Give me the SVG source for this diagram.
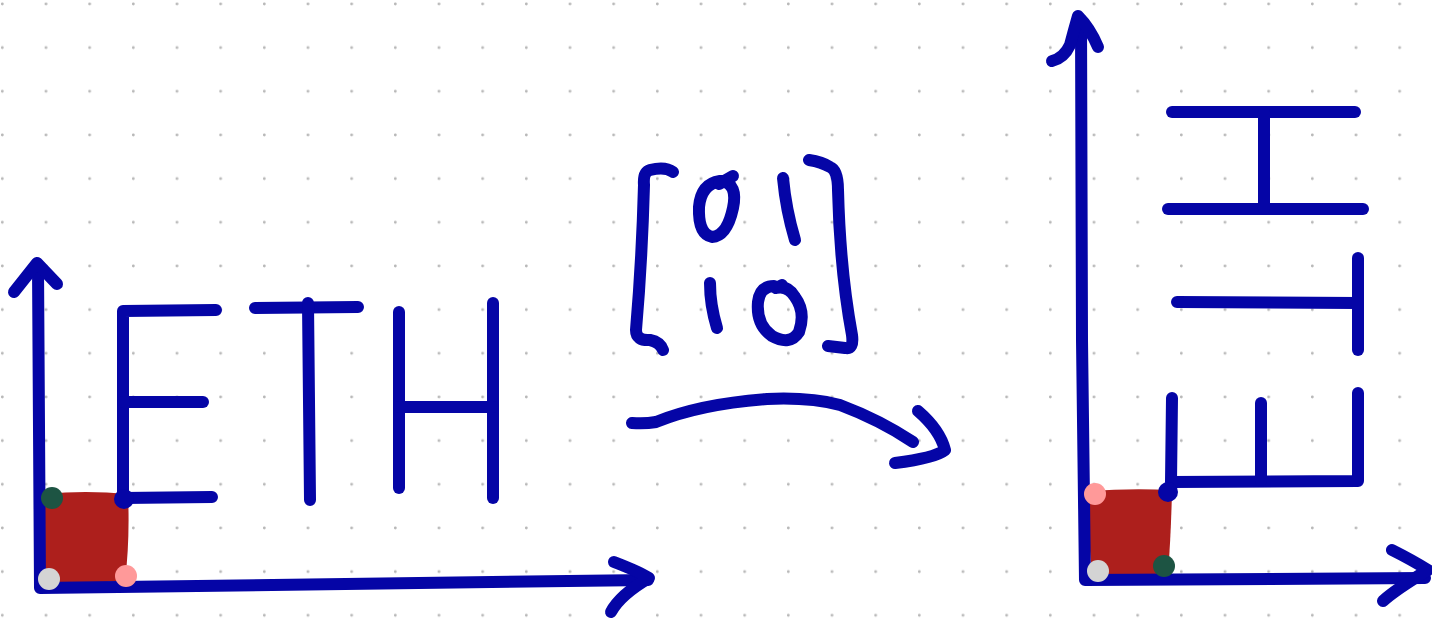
<svg xmlns="http://www.w3.org/2000/svg" width="1432" height="621" viewBox="0 0 1432 621">
  <style>
    .ink { fill: none; stroke: #0505a6; stroke-width: 12; stroke-linecap: round; stroke-linejoin: round; }
    .fill { fill: #ad1f1c; }
    .blue { fill: #0505a6; }
    .green { fill: #1d5443; }
    .grey { fill: #d4d4d4; }
    .pink { fill: #ff9999; }
  </style>
  <defs>
    <pattern id="dots" patternUnits="userSpaceOnUse" x="0" y="0" width="43.667" height="43.667">
      <circle cx="2.33" cy="4" r="1.4" fill="#b8b8b8"/>
    </pattern>
  </defs>

  <!-- dotted paper -->
  <rect width="1432" height="621" fill="#ffffff"/>
  <rect width="1432" height="621" fill="url(#dots)"/>

  <!-- original shape: square on axes with lettering -->
  <g id="left-square">
    <path class="fill" d="M45 494 Q85 490 128 494 Q130 540 125 581 Q85 584 46 582 Q43 540 44 514 Q38 505 45 494 Z"/>
  </g>
  <g id="left-axes">
    <path class="ink" d="M38 266 L40 588 L648 580"/>
    <path class="ink" d="M14 292 L37 263 L57 284"/>
    <path class="ink" d="M614 562 Q640 572 649 578 Q620 595 611 612"/>
  </g>
  <g id="left-letters">
    <!-- E -->
    <path class="ink" d="M216 310 L123 311 L123 498 L212 497"/>
    <path class="ink" d="M123 402 L203 402"/>
    <!-- T -->
    <path class="ink" d="M255 308 L358 307"/>
    <path class="ink" d="M308 303 L310 500"/>
    <!-- H -->
    <path class="ink" d="M399 312 L399 488"/>
    <path class="ink" d="M493 303 L493 498"/>
    <path class="ink" d="M399 407 L493 407"/>
  </g>
  <g id="left-corners">
    <circle class="green" cx="52" cy="498" r="11"/>
    <circle class="blue" cx="124" cy="499" r="10"/>
    <circle class="grey" cx="49" cy="579" r="11"/>
    <circle class="pink" cx="126" cy="576" r="11"/>
  </g>

  <!-- transformation matrix -->
  <g id="matrix">
    <path class="ink" d="M673 172 Q665 166 650 170 Q643 172 644 185 Q642 260 636 330 Q636 341 650 340 Q660 342 663 350"/>
    <path class="ink" d="M809 160 Q822 162 830 167 Q838 170 838 190 Q840 270 852 335 Q854 350 845 348 L828 346"/>
    <path class="ink" d="M720 181 Q701 184 699 207 Q698 234 712 237 Q727 236 733 208 Q738 184 722 181 Z"/>
    <path class="ink" d="M719 184 L733 176"/>
    <path class="ink" d="M783 178 Q786 210 795 240"/>
    <path class="ink" d="M710 283 Q710 305 717 328"/>
    <path class="ink" d="M774 286 Q760 286 758 302 Q756 325 772 336 Q790 346 799 332 Q806 312 795 297 Q788 285 776 288 L782 285"/>
  </g>

  <!-- mapping arrow -->
  <g id="connectors">
    <path class="ink" d="M632 423 Q645 424 656 422 Q700 404 767 399 Q810 397 840 405 Q880 420 913 442"/>
    <path class="ink" d="M918 411 Q940 430 945 450 Q935 458 895 463"/>
  </g>

  <!-- transformed shape: rotated square and lettering -->
  <g id="right-square">
    <path class="fill" d="M1090 491 Q1130 488 1172 490 Q1171 535 1168 574 Q1130 576 1092 575 Q1088 535 1088 500 Z"/>
  </g>
  <g id="right-axes">
    <path class="ink" d="M1081 20 L1082 340 L1085 580 L1425 578"/>
    <path class="ink" d="M1052 61 Q1064 58 1070 45 Q1074 30 1078 16 Q1090 28 1098 47"/>
    <path class="ink" d="M1392 550 Q1412 560 1428 570 Q1395 590 1383 601"/>
  </g>
  <g id="right-letters">
    <!-- H (rotated) -->
    <path class="ink" d="M1172 112 L1355 112"/>
    <path class="ink" d="M1168 209 L1363 209"/>
    <path class="ink" d="M1264 112 L1264 209"/>
    <!-- T (rotated) -->
    <path class="ink" d="M1177 302 L1358 303"/>
    <path class="ink" d="M1358 258 L1358 350"/>
    <!-- E (rotated) -->
    <path class="ink" d="M1172 398 L1171 482 L1358 481 L1358 393"/>
    <path class="ink" d="M1261 403 L1261 481"/>
  </g>
  <g id="right-corners">
    <circle class="pink" cx="1095" cy="494" r="11"/>
    <circle class="blue" cx="1168" cy="492" r="10"/>
    <circle class="grey" cx="1098" cy="571" r="11"/>
    <circle class="green" cx="1164" cy="566" r="11"/>
  </g>
</svg>
